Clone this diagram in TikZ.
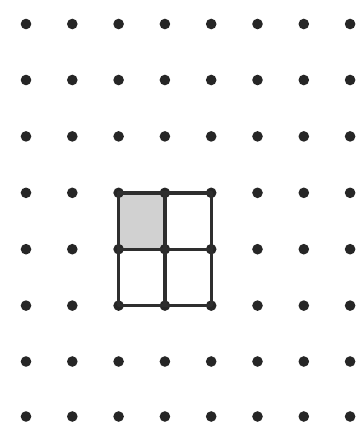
\documentclass[tikz,border=0pt]{standalone}
\begin{document}
\begin{tikzpicture}[x=1pt,y=-1pt,
  gdot/.style={fill=black!85,draw=none},
  gline/.style={draw=black!82,line width=3.4pt,line cap=round,line join=round},
  shade/.style={fill=black!18}]
\useasboundingbox (0,0) rectangle (358,432);
\fill[white] (0,0) rectangle (358,432);
% shaded cell
\fill[shade] (118.6,192.8) rectangle (164.9,249.2);
% dot grid
\foreach \x in {26,72.3,118.6,164.9,211.2,257.5,303.8,350.1}
  \foreach \y in {24,80,136.4,192.8,249.2,305.6,361.5,416.5}
    \fill[gdot] (\x,\y) circle (5.3);
% 2x2 grid of squares
\draw[gline] (118.6,192.8) rectangle (211.2,305.6);
\draw[gline] (164.9,192.8) -- (164.9,305.6);
\draw[gline] (118.6,249.2) -- (211.2,249.2);
\end{tikzpicture}
\end{document}
